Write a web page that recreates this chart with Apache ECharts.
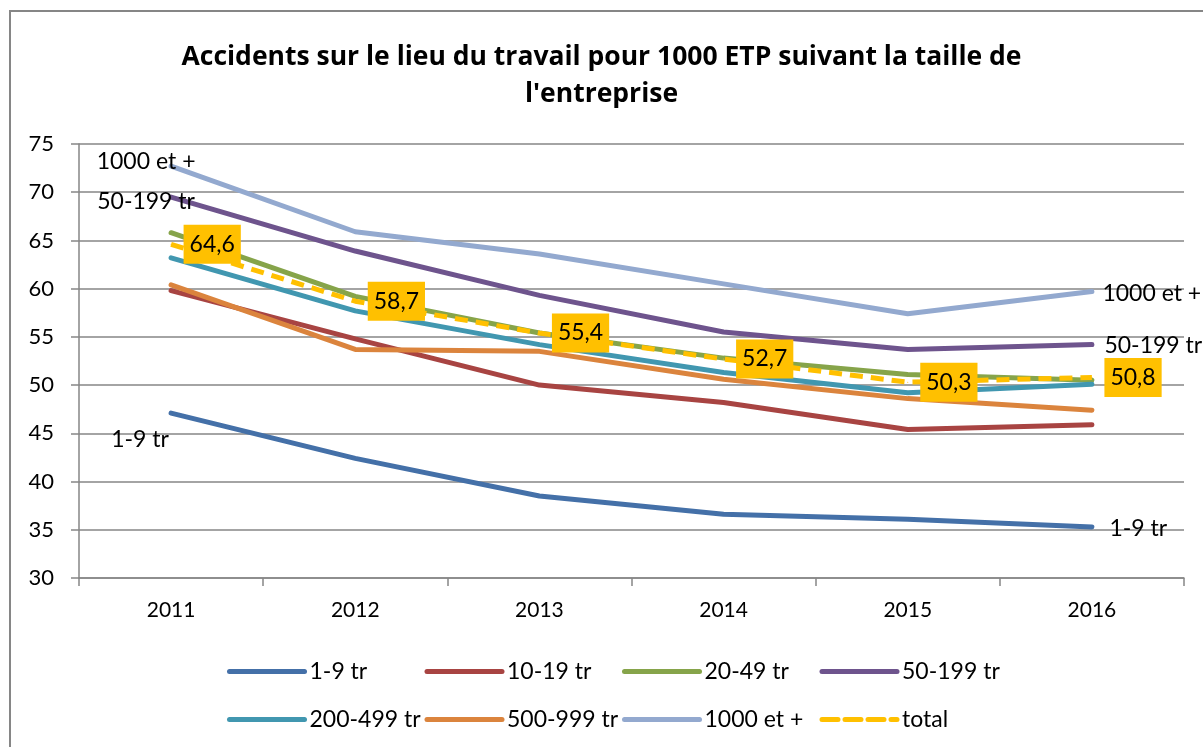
<!DOCTYPE html>
<html>
<head>
<meta charset="utf-8">
<script src="https://cdn.jsdelivr.net/npm/echarts@6/dist/echarts.min.js"></script>
<style>
  html, body { margin: 0; padding: 0; background: #fff; }
  #chart { width: 1203px; height: 747px; }
</style>
</head>
<body>
<div id="chart"></div>
<script>
// données
var years = ['2011', '2012', '2013', '2014', '2015', '2016']
var s1_9 = [47.1, 42.4, 38.5, 36.6, 36.1, 35.3]
var s10_19 = [59.8, 54.8, 50.0, 48.2, 45.4, 45.9]
var s20_49 = [65.8, 59.2, 55.4, 52.8, 51.1, 50.5]
var s50_199 = [69.5, 63.9, 59.3, 55.5, 53.7, 54.2]
var s200_499 = [63.2, 57.7, 54.2, 51.3, 49.2, 50.1]
var s500_999 = [60.4, 53.7, 53.5, 50.6, 48.6, 47.4]
var s1000 = [72.7, 65.9, 63.6, 60.5, 57.4, 59.7]
var total = [64.6, 58.7, 55.4, 52.7, 50.3, 50.8]
var yTicks = [30, 35, 40, 45, 50, 55, 60, 65, 70, 75]
var legendRows = [
  ['1-9 tr', '10-19 tr', '20-49 tr', '50-199 tr'],
  ['200-499 tr', '500-999 tr', '1000 et +', 'total']
]

var font = 'Lato, "Noto Sans", sans-serif'

// étiquettes aux extrémités de certaines courbes
function withEndLabels(values, name, first, last) {
  return values.map(function (v, i) {
    if (i === 0 && first) {
      return { value: v, label: Object.assign({ show: true, formatter: name, position: 'inside' }, first) }
    }
    if (i === values.length - 1 && last) {
      return { value: v, label: Object.assign({ show: true, formatter: name, position: 'right' }, last) }
    }
    return v
  })
}

function line(name, color, data) {
  return {
    name: name,
    type: 'line',
    data: data,
    symbol: 'circle',
    symbolSize: 1,
    showSymbol: true,
    lineStyle: { color: color, width: 5, cap: 'round' },
    itemStyle: { color: color },
    label: { color: '#000', fontSize: 23, fontFamily: font },
    z: 2
  }
}

// une légende par élément pour garder les colonnes alignées
var legends = []
legendRows.forEach(function (row, r) {
  row.forEach(function (name, c) {
    legends.push({
      data: [name],
      left: 222 + c * 197.5,
      top: 655 + r * 48,
      itemWidth: 75,
      itemHeight: 14,
      itemStyle: { opacity: 0 },
      lineStyle: name === 'total' ? { width: 5, type: [16, 7], cap: 'round' } : { width: 5, cap: 'round' },
      textStyle: { fontSize: 23, color: '#000', fontFamily: font }
    })
  })
})

var chart = echarts.init(document.getElementById('chart'))

var option = {
  backgroundColor: '#fff',
  animation: false,
  textStyle: { fontFamily: font },
  title: {
    text: "Accidents sur le lieu du travail pour 1000 ETP suivant la taille de\nl'entreprise",
    left: 'center',
    top: 34,
    textStyle: { fontSize: 26.5, fontWeight: 'bold', color: '#000', lineHeight: 37, fontFamily: '"Open Sans", sans-serif' }
  },
  graphic: [{
    type: 'rect',
    shape: { x: 10, y: 11, width: 1210, height: 760 },
    style: { fill: 'none', stroke: '#868686', lineWidth: 2 },
    silent: true
  }],
  grid: { left: 79, right: 19, top: 144, bottom: 169, containLabel: false },
  legend: legends,
  xAxis: {
    type: 'category',
    data: years,
    boundaryGap: true,
    axisLine: { lineStyle: { color: '#868686', width: 1.5 } },
    axisTick: { show: true, length: 8, lineStyle: { color: '#868686', width: 1.5 } },
    axisLabel: { color: '#000', fontSize: 21, margin: 22, fontFamily: font }
  },
  yAxis: {
    type: 'value',
    min: yTicks[0],
    max: yTicks[yTicks.length - 1],
    interval: 5,
    axisLine: { show: true, lineStyle: { color: '#868686', width: 1.5 } },
    axisTick: { show: true, length: 8, lineStyle: { color: '#868686', width: 1.5 } },
    axisLabel: { color: '#000', fontSize: 22, margin: 25, fontFamily: font },
    splitLine: { lineStyle: { color: '#868686', width: 1.5 } }
  },
  series: [
    line('1-9 tr', '#4470A8', withEndLabels(s1_9, '1-9 tr', { offset: [-31, 26] }, { distance: 17, offset: [0, 2] })),
    line('10-19 tr', '#A84442', s10_19),
    line('20-49 tr', '#86A44A', s20_49),
    line('50-199 tr', '#6E548D', withEndLabels(s50_199, '50-199 tr', { offset: [-25, 5] }, { distance: 12, offset: [0, 1] })),
    line('200-499 tr', '#4197B0', s200_499),
    line('500-999 tr', '#DB843D', s500_999),
    line('1000 et +', '#93A9CF', withEndLabels(s1000, '1000 et +', { offset: [-25, -5] }, { distance: 10, offset: [0, 2] })),
    {
      name: 'total',
      type: 'line',
      data: total,
      symbol: 'circle',
      symbolSize: 1,
      showSymbol: true,
      lineStyle: { color: '#FFC000', width: 5, type: [13, 8] },
      itemStyle: { color: '#FFC000' },
      z: 3,
      label: {
        show: true,
        position: 'right',
        distance: 12,
        backgroundColor: '#FFC000',
        padding: [9, 6, 7, 6],
        color: '#000',
        fontSize: 23,
        fontFamily: font,
        formatter: function (p) { return String(p.value).replace('.', ',') }
      }
    }
  ]
}

chart.setOption(option)
</script>
</body>
</html>
